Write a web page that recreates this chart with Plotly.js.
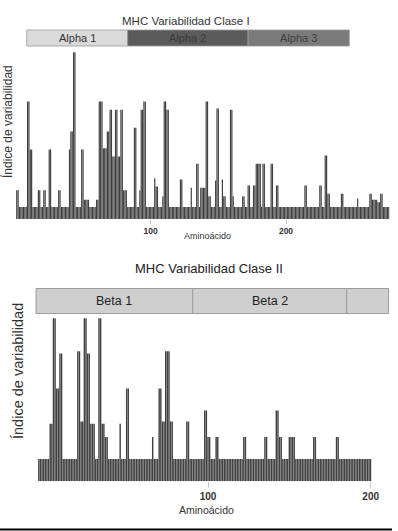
<!DOCTYPE html>
<html>
<head>
<meta charset="utf-8">
<script src="https://cdn.plot.ly/plotly-3.0.1.min.js"></script>
<style>html,body{margin:0;padding:0;background:#fff;}#chart{width:398px;height:531px;}</style>
</head>
<body>
<div id="chart"></div>
<script>
// ---------- DATA ----------
// Class I: variability index per residue, residues 1..276
const classI_start = 1;
const classI_values = [
  2.4,2.4,1,1,1,1,1,1,9.8,9.8,5.8,5.8,1,1,1,1,2.4,2.4,1,1,
  2.4,2.4,1,1,5.8,5.8,1,1,1,1,1,2.4,2.4,1,1,1,1,1,1,5.8,
  7.3,7.3,13.9,13.9,1,1,1,1,5.8,5.8,1.6,1.6,1.6,1.6,1,1,1,1,1,1.6,
  1.6,9.8,9.8,9.8,5.9,5.9,5.9,7.3,7.3,9.1,9.1,5.2,5.2,9.1,9.1,5.2,5.2,9.1,9.1,2.4,
  2.4,2.4,1,1,1,1,1,7.6,7.6,1,1,2.4,9.1,9.1,9.8,9.8,1,1,1,1,
  1,1,3.4,2.7,2.7,1,1,1,1.9,9.8,9.8,9.1,9.1,1,1,1,1,1,1,1,
  1,3.3,3.3,1,1,1,1,1,1,2.6,1,1,1,4.6,4.6,1,2.6,2.6,2.6,2.6,
  9.8,9.8,1.9,1.9,1,1,1,3.2,9.2,9.2,1,1,3.3,1.9,1.9,1,1,1,9.1,9.1,
  1.9,1,1,1,1,1,1,1.9,1.9,1,1,2.8,2.8,1,1,2.8,2.8,4.6,4.6,4.6,
  4.6,1,4.6,4.6,1,1,1,1,4.6,4.6,1,1,2.8,2.8,1,1,1,1,1,1,
  1,1,1,1,1,1,1,1,1,1,1,1,1,2.8,2.8,1,1,1,1,1,
  1,1,1,1,2.8,2.8,1,1,5.3,5.3,2.1,2.1,1,1,1,1,1,1,1,1,
  2.1,2.1,1,1,1,1,1,1,1,1,1,1,1.7,1,1,1,1,1,1,1,
  1,2.1,2.1,1.6,1.6,1.6,1.6,1.4,1.4,2.1,2.1,1,1,1,1,1
];
// Class II: variability index per residue, residues -4..200
const classII_start = -4;
const classII_values = [
  1,1,1,1,1,1,1,2.6,2.6,7.4,7.4,4.2,4.2,5.8,5.8,1,1,1,1,1,
  1,1,1,1,5.9,5.9,2.7,2.7,7.4,7.4,5.8,5.8,2.6,2.6,2.6,1,1,7.4,7.4,2.6,
  2.6,2,2,1,1,1,1,1,1,1,2.6,1,1,1,4.2,4.2,1,1,1,1,
  1,1,1,1,1,1,1,1,1,1,2,1,1,1,4.2,4.2,2.7,2.7,5.9,5.9,
  5.9,2.7,2.7,1,1,1,1,1,1,1,1,2.7,2.7,1,1,1,1,1,1,1,
  1,1,3.2,3.2,2,2,1,1,1,2,2,1,1,1,1,1,1,1,1,1,
  1,1,1,1,1,1,2,2,1,1,1,1,1,1,1,1,1,1,1,2,
  2,1,1,1,1,1,3.2,3.2,2,2,1,1,1,1,2,2,2,2,1,1,
  1,1,1,1,1,1,1,1,1,2,2,1,1,1,1,1,1,1,1,1,
  1,1,1,2,2,1,1,1,1,1,1,1,1,1,1,1,1,1,1,1,
  1,1,1,1,1
];
const tickValues = [100, 200];
const tickLabels = ['100', '200'];
// Domain strips (residue boundaries)
const classI_domainNames = ['Alpha 1', 'Alpha 2', 'Alpha 3'];
const classI_domainEdges = [8.4, 83, 172, 246.8];
const classII_domainNames = ['Beta 1', 'Beta 2', ''];
const classII_domainEdges = [-5.7, 90.6, 185.2, 211];
const titles = ['MHC Variabilidad Clase I', 'MHC Variabilidad Clase II'];
const yTitle = 'Índice de variabilidad';
const xTitle = 'Aminoácido';

// ---------- LAYOUT ----------
const W = 398, H = 531;
const FONT = '"Liberation Sans Narrow", "Arial Narrow", "Liberation Sans", Arial, sans-serif';
const px = v => v / W;           // x pixel -> paper
const py = v => 1 - v / H;       // y pixel -> paper

const xa1 = {domain: [px(15.4), px(389.5)], range: [0, 276.5]};
const xa2 = {domain: [px(38), px(371.5)], range: [-4.5, 200.5]};
function toPaper(ax, r) {
  return ax.domain[0] + (r - ax.range[0]) / (ax.range[1] - ax.range[0]) * (ax.domain[1] - ax.domain[0]);
}

const x1 = classI_values.map((_, i) => classI_start + i);
const x2 = classII_values.map((_, i) => classII_start + i);

const traces = [
  {type: 'bar', x: x1, y: classI_values, xaxis: 'x', yaxis: 'y',
   marker: {color: '#404040', line: {width: 0}}, hoverinfo: 'x+y'},
  {type: 'bar', x: x2, y: classII_values, xaxis: 'x2', yaxis: 'y2',
   marker: {color: '#424242', line: {width: 0}}, hoverinfo: 'x+y'}
];

const axisCommon = {
  showgrid: false, zeroline: false, showline: false,
  tickmode: 'array', tickvals: tickValues, ticktext: tickLabels,
  ticks: 'outside', tickcolor: '#c8c8c8', tickwidth: 1, fixedrange: true
};

const shapes = [];
const annotations = [];

// Class I domain strip
const c1Fill = ['#dadada', '#5b5b5b', '#7a7a7a'];
const c1Text = ['#333333', '#3a3a3a', '#3e3e3e'];
classI_domainNames.forEach((name, i) => {
  const a = toPaper(xa1, classI_domainEdges[i]);
  const b = toPaper(xa1, classI_domainEdges[i + 1]);
  shapes.push({type: 'rect', xref: 'paper', yref: 'paper', x0: a, x1: b, y0: py(46), y1: py(30),
    fillcolor: c1Fill[i], line: {color: '#9a9a9a', width: 0.8}, layer: 'below'});
  annotations.push({xref: 'paper', yref: 'paper', x: (a + b) / 2, y: py(38), text: name, showarrow: false,
    xanchor: 'center', yanchor: 'middle', font: {family: FONT, size: 11, color: c1Text[i]}});
});
// Class II domain strip
classII_domainNames.forEach((name, i) => {
  const a = toPaper(xa2, classII_domainEdges[i]);
  const b = toPaper(xa2, classII_domainEdges[i + 1]);
  shapes.push({type: 'rect', xref: 'paper', yref: 'paper', x0: a, x1: b, y0: py(313.5), y1: py(288.5),
    fillcolor: '#cfcfcf', line: {color: '#9c9c9c', width: 1}, layer: 'below'});
  if (name) annotations.push({xref: 'paper', yref: 'paper', x: (a + b) / 2, y: py(301), text: name, showarrow: false,
    xanchor: 'center', yanchor: 'middle', font: {family: FONT, size: 12.5, color: '#222222'}});
});
// bottom black rule
shapes.push({type: 'line', xref: 'paper', yref: 'paper', x0: 0, x1: px(392), y0: py(529.5), y1: py(529.5),
  line: {color: '#000000', width: 2}});

// Titles
annotations.push({xref: 'paper', yref: 'paper', x: px(186), y: py(21), text: titles[0], showarrow: false,
  xanchor: 'center', yanchor: 'middle', font: {family: FONT, size: 11.5, color: '#333333'}});
annotations.push({xref: 'paper', yref: 'paper', x: px(208.5), y: py(268), text: titles[1], showarrow: false,
  xanchor: 'center', yanchor: 'middle', font: {family: FONT, size: 13, color: '#222222'}});
// Y titles
annotations.push({xref: 'paper', yref: 'paper', x: px(8), y: py(122), text: yTitle, showarrow: false, textangle: -90,
  xanchor: 'center', yanchor: 'middle', font: {family: FONT, size: 12, color: '#333333'}});
annotations.push({xref: 'paper', yref: 'paper', x: px(18), y: py(371), text: yTitle, showarrow: false, textangle: -90,
  xanchor: 'center', yanchor: 'middle', font: {family: FONT, size: 14.5, color: '#333333'}});
// X titles
annotations.push({xref: 'paper', yref: 'paper', x: px(207.5), y: py(236), text: xTitle, showarrow: false,
  xanchor: 'center', yanchor: 'middle', font: {family: FONT, size: 9, color: '#333333'}});
annotations.push({xref: 'paper', yref: 'paper', x: px(206), y: py(510), text: xTitle, showarrow: false,
  xanchor: 'center', yanchor: 'middle', font: {family: FONT, size: 10.5, color: '#333333'}});

const layout = {
  width: W, height: H,
  margin: {l: 0, r: 0, t: 0, b: 0},
  paper_bgcolor: '#ffffff', plot_bgcolor: 'rgba(0,0,0,0)',
  showlegend: false, bargap: 0.12,
  xaxis: Object.assign({}, axisCommon, {domain: xa1.domain, range: xa1.range, anchor: 'y',
    ticklen: 4, tickfont: {family: FONT, size: 8.5, color: '#333333', weight: 'bold'}}),
  yaxis: {domain: [py(219), py(50)], range: [0, (219 - 50) / 12], visible: false, fixedrange: true, anchor: 'x'},
  xaxis2: Object.assign({}, axisCommon, {domain: xa2.domain, range: xa2.range, anchor: 'y2',
    ticklen: 6, tickfont: {family: FONT, size: 10, color: '#333333', weight: 'bold'}}),
  yaxis2: {domain: [py(481), py(316)], range: [0, 165 / 22], visible: false, fixedrange: true, anchor: 'x2'},
  shapes: shapes,
  annotations: annotations
};

Plotly.newPlot('chart', traces, layout, {staticPlot: true, displayModeBar: false});
</script>
</body>
</html>
